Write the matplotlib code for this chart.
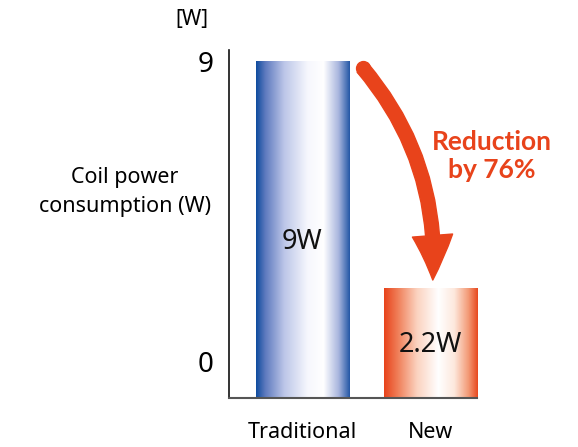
import matplotlib
matplotlib.use("Agg")
import matplotlib.pyplot as plt
import numpy as np
from matplotlib.colors import LinearSegmentedColormap
from matplotlib.patches import FancyArrowPatch, ArrowStyle

plt.rcParams["font.family"] = ["Noto Sans", "DejaVu Sans"]

categories = ["Traditional", "New"]
values = [9, 2.2]
value_labels = ["9W", "2.2W"]
y_ticks = [0, 9]
y_unit = "[W]"
y_title = "Coil power\nconsumption (W)"
note = "Reduction\nby 76%"

ORANGE = "#e8431b"

blue_cmap = LinearSegmentedColormap.from_list(
    "blue_bar",
    [(0.0, "#0f4c9e"), (0.1, "#5f7bbf"), (0.3, "#bcc6e8"),
     (0.55, "#f6f7fd"), (0.72, "#ffffff"), (0.88, "#a9b6de"), (1.0, "#2457a6")]
)
orange_cmap = LinearSegmentedColormap.from_list(
    "orange_bar",
    [(0.0, "#e8431b"), (0.15, "#f0805a"), (0.35, "#fbd2bf"),
     (0.58, "#ffffff"), (0.75, "#fde8dd"), (0.9, "#f39a76"), (1.0, "#e8491f")]
)

fig = plt.figure(figsize=(5.78, 4.47), dpi=100)
ax = fig.add_axes([0.396, 0.1096, 0.429, 0.7785])

y_min, y_max = -1.08, 9.33
x = np.arange(len(categories))
bars = ax.bar(x, [v - y_min for v in values], bottom=y_min, width=0.73,
              color="none", edgecolor="none")

grad = np.linspace(0, 1, 256).reshape(1, -1)
for bar, cmap in zip(bars, [blue_cmap, orange_cmap]):
    x0, y0 = bar.get_x(), bar.get_y()
    img = ax.imshow(grad, cmap=cmap, aspect="auto",
                    extent=[x0, x0 + bar.get_width(), y0, y0 + bar.get_height()],
                    zorder=1)
    img.set_clip_path(bar)

text_y = [3.6, 0.5]
for xi, lbl, ty in zip(x, value_labels, text_y):
    ax.text(xi, ty, lbl, ha="center", va="center", fontsize=19.5, color="#111111")

ax.set_xlim(-0.576, 1.365)
ax.set_ylim(y_min, y_max)

ax.spines["top"].set_visible(False)
ax.spines["right"].set_visible(False)
ax.spines["left"].set_color("#111111")
ax.spines["bottom"].set_color("#555555")
ax.spines["left"].set_linewidth(1.2)
ax.spines["bottom"].set_linewidth(1.5)

ax.set_yticks(y_ticks)
ax.set_yticklabels([str(t) for t in y_ticks], fontsize=20)
ax.set_xticks(x)
ax.set_xticklabels(categories, fontsize=15.5)
ax.tick_params(axis="y", length=0, pad=11)
ax.tick_params(axis="x", length=0, pad=17)

fig.text(192 / 578, 1 - 20 / 447, y_unit, ha="center", va="center", fontsize=15)
fig.text(125 / 578, 1 - 192 / 447, y_title, ha="center", va="center",
         fontsize=15.5, linespacing=1.45)

# curved reduction arrow from the top of the old bar down to the new one
arrow = FancyArrowPatch(
    (0.47, 8.8), (1.02, 2.45),
    connectionstyle="arc3,rad=-0.2",
    arrowstyle=ArrowStyle.Simple(head_length=3.2, head_width=2.9, tail_width=1.0),
    mutation_scale=10, color=ORANGE, shrinkA=0, shrinkB=0, zorder=3,
)
ax.add_patch(arrow)
ax.plot([0.47], [8.8], "o", color=ORANGE, markersize=10, zorder=3)

fig.text(492 / 578, 1 - 156 / 447, note, ha="center", va="center",
         fontsize=19, fontweight="bold", color=ORANGE, linespacing=1.2,
         family=["Lato", "DejaVu Sans"])

fig.savefig("out.png", dpi=100)
